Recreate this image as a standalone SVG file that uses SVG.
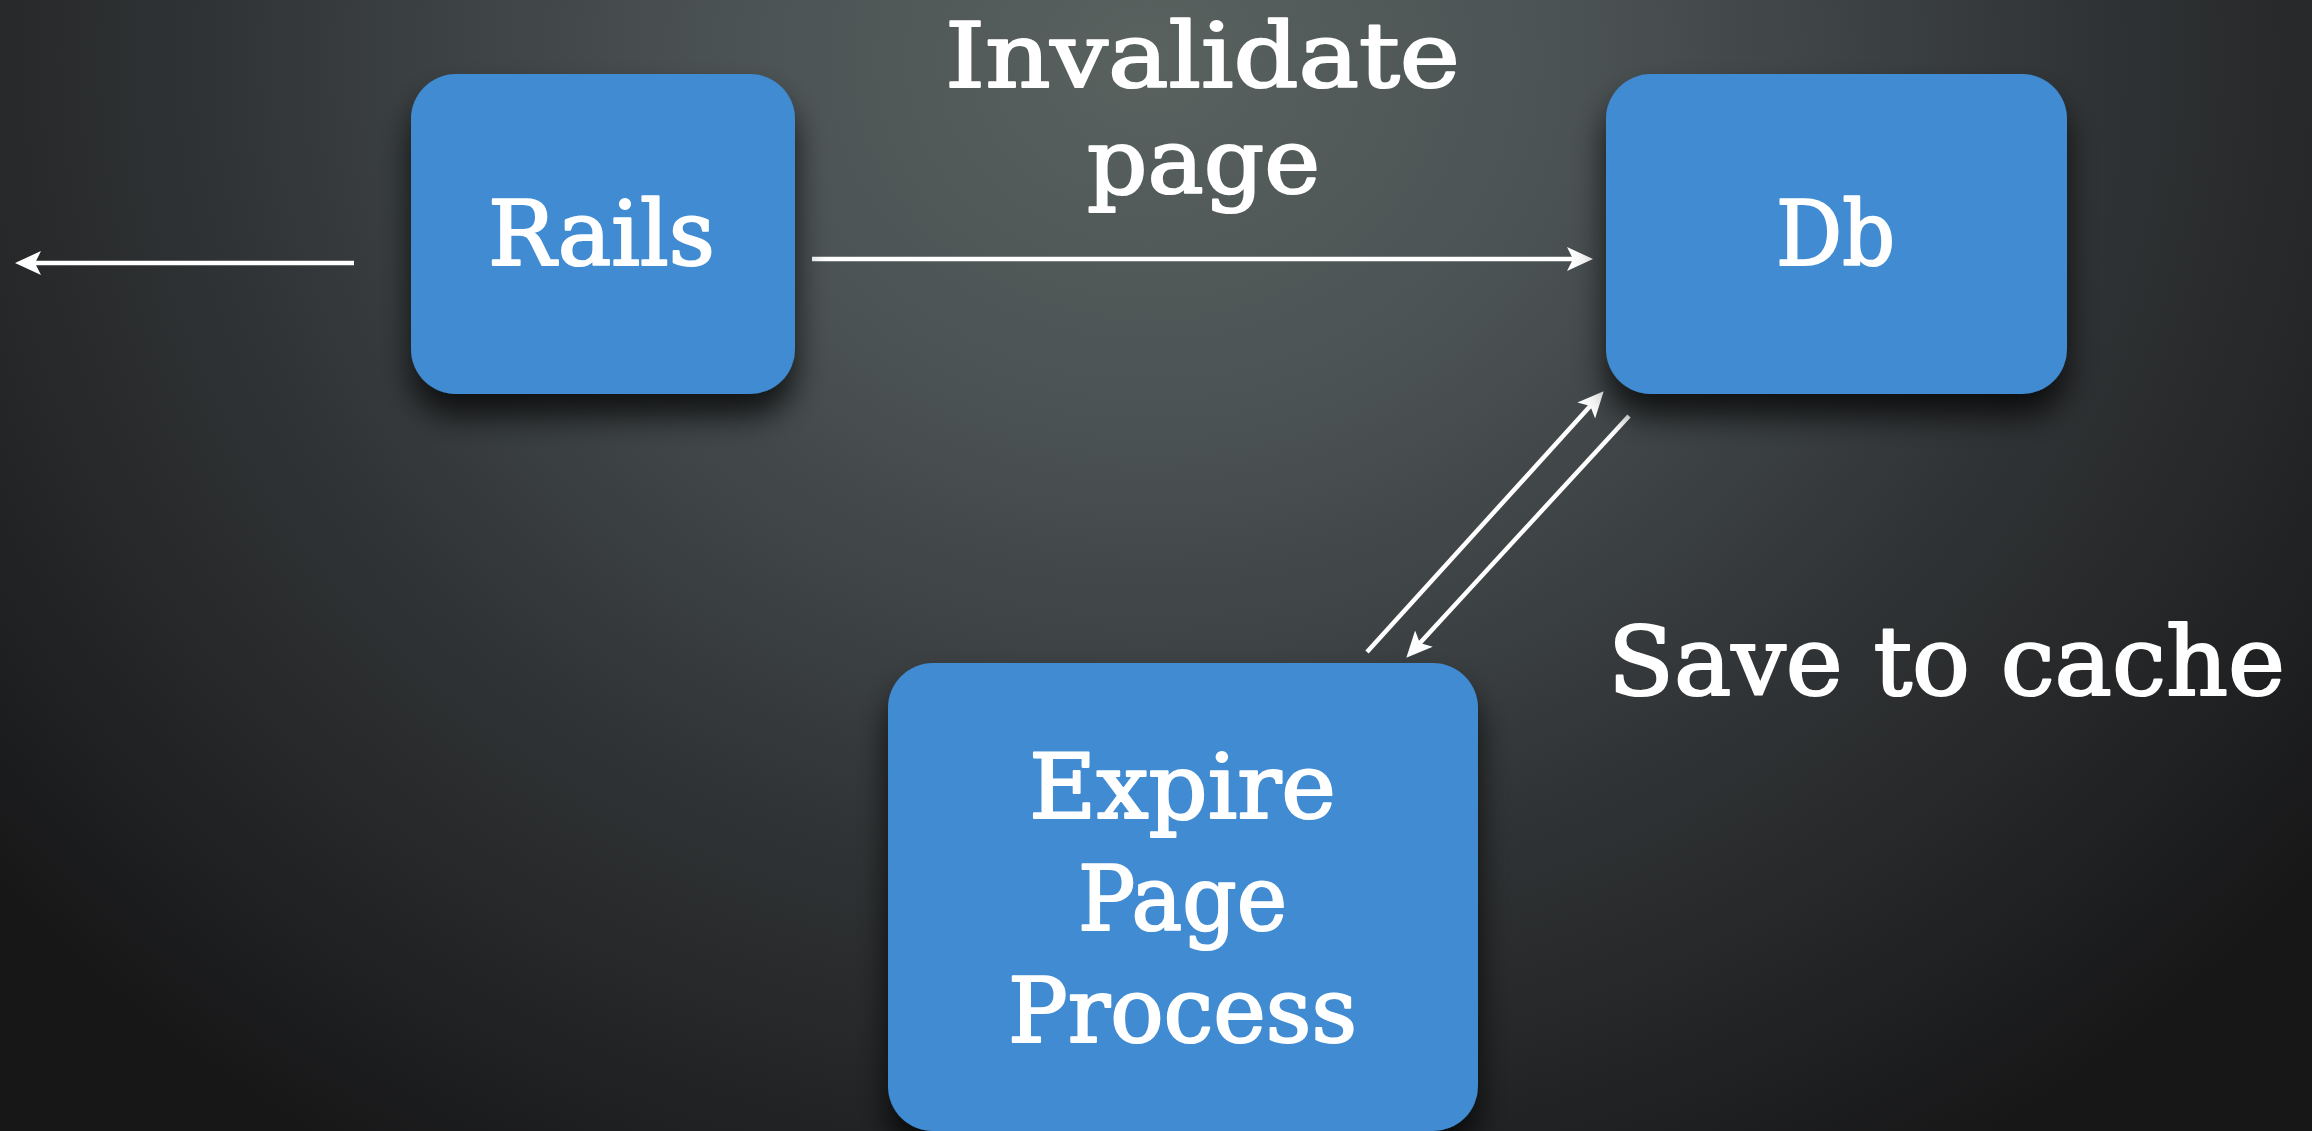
<svg xmlns="http://www.w3.org/2000/svg" width="2312" height="1131" viewBox="0 0 2312 1131">
  <defs>
    <radialGradient id="bg" gradientUnits="userSpaceOnUse" cx="1150" cy="60" r="1300" gradientTransform="translate(1150 60) scale(1.15 1) translate(-1150 -60)">
      <stop offset="0" stop-color="#59625f"/>
      <stop offset="0.3" stop-color="#4a5153"/>
      <stop offset="0.62" stop-color="#313436"/>
      <stop offset="1" stop-color="#171718"/>
    </radialGradient>
    <filter id="shadow" x="-20%" y="-20%" width="140%" height="150%">
      <feDropShadow dx="0" dy="22" stdDeviation="16" flood-color="#000" flood-opacity="0.75"/>
    </filter>
    <marker id="head" markerUnits="userSpaceOnUse" viewBox="0 -14 28 28" markerWidth="28" markerHeight="28" refX="12" refY="0" orient="auto">
      <path d="M0,-12 L26,0 L0,12 L6,0 Z" fill="#ffffff"/>
    </marker>
    <style>
      .box { fill: #3f8bd1; filter: url(#shadow); }
      .lbl { font-family: "DejaVu Serif", "Liberation Serif", serif; font-size: 90px; fill: #ffffff; stroke: #ffffff; stroke-width: 2.2; stroke-linejoin: round; }
      .conn { stroke: #ffffff; stroke-width: 4.5; fill: none; marker-end: url(#head); }
    </style>
  </defs>
  <rect x="0" y="0" width="2312" height="1131" fill="url(#bg)"/>

  <g id="connectors">
    <line class="conn" x1="354" y1="263" x2="29" y2="263"/>
    <line class="conn" x1="812" y1="259" x2="1579" y2="259"/>
    <line class="conn" x1="1367" y1="652" x2="1594.3" y2="401.6"/>
    <line class="conn" x1="1629" y1="416" x2="1415.8" y2="647.4"/>
  </g>

  <g id="label-invalidate">
    <text class="lbl" x="945" y="87" textLength="515" lengthAdjust="spacingAndGlyphs">Invalidate</text>
    <text class="lbl" x="1087" y="193" textLength="233" lengthAdjust="spacingAndGlyphs">page</text>
  </g>
  <g id="label-save">
    <text class="lbl" x="1608" y="695" style="font-size:95px" textLength="677" lengthAdjust="spacingAndGlyphs">Save to cache</text>
  </g>

  <g id="node-rails">
    <rect class="box" x="411" y="74" width="384" height="320" rx="45"/>
    <text class="lbl" x="488" y="265" textLength="227" lengthAdjust="spacingAndGlyphs">Rails</text>
  </g>
  <g id="node-db">
    <rect class="box" x="1606" y="74" width="461" height="320" rx="45"/>
    <text class="lbl" x="1776" y="265" textLength="119" lengthAdjust="spacingAndGlyphs">Db</text>
  </g>
  <g id="node-expire">
    <rect class="box" x="888" y="663" width="590" height="468" rx="45"/>
    <text class="lbl" x="1029" y="818" textLength="307" lengthAdjust="spacingAndGlyphs">Expire</text>
    <text class="lbl" x="1078" y="930" textLength="209" lengthAdjust="spacingAndGlyphs">Page</text>
    <text class="lbl" x="1008" y="1042" textLength="349" lengthAdjust="spacingAndGlyphs">Process</text>
  </g>
</svg>
